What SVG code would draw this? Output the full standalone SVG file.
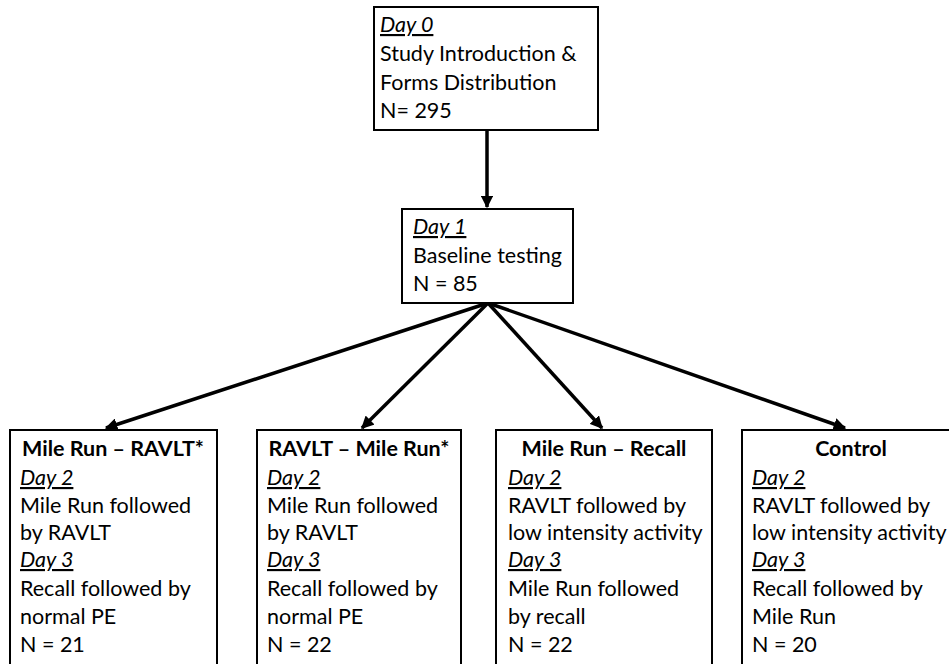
<svg xmlns="http://www.w3.org/2000/svg" width="949" height="664" viewBox="0 0 949 664">
<defs>
<style>
text{font-family:Lato,"Open Sans","Liberation Sans",sans-serif;font-size:21.5px;fill:#000}
.d{font-style:italic;text-decoration:underline}
.t{font-weight:bold;text-anchor:middle}
.box{fill:#fff;stroke:#000;stroke-width:2}
.c{stroke:#000;stroke-width:3.5;fill:none}
</style>
<marker id="ah" viewBox="0 0 10 10" refX="9" refY="5" markerWidth="3.6" markerHeight="3.6" orient="auto" markerUnits="strokeWidth">
<path d="M0,0 L10,5 L0,10 z" fill="#000"/>
</marker>
</defs>
<rect width="949" height="664" fill="#fff"/>
<g id="connectors">
<line class="c" x1="487" y1="130" x2="487" y2="207" marker-end="url(#ah)"/>
<line class="c" x1="488" y1="303" x2="106" y2="428" marker-end="url(#ah)"/>
<line class="c" x1="488" y1="303" x2="362" y2="428" marker-end="url(#ah)"/>
<line class="c" x1="488" y1="303" x2="602" y2="428" marker-end="url(#ah)"/>
<line class="c" x1="488" y1="303" x2="845" y2="428" marker-end="url(#ah)"/>
</g>
<g id="day0">
<rect class="box" x="374" y="7" width="224" height="123"/>
<text class="d" x="380" y="32">Day 0</text>
<text x="380" y="61">Study Introduction &amp;</text>
<text x="380" y="90">Forms Distribution</text>
<text x="380" y="118">N= 295</text>
</g>
<g id="day1">
<rect class="box" x="402" y="209" width="171" height="94"/>
<text class="d" x="413" y="234">Day 1</text>
<text x="413" y="263">Baseline testing</text>
<text x="413" y="291">N = 85</text>
</g>
<g id="g1">
<rect class="box" x="10" y="430" width="207" height="250"/>
<text class="t" x="113" y="456">Mile Run – RAVLT*</text>
<text class="d" x="20" y="485">Day 2</text>
<text x="20" y="513">Mile Run followed</text>
<text x="20" y="540">by RAVLT</text>
<text class="d" x="20" y="567">Day 3</text>
<text x="20" y="596">Recall followed by</text>
<text x="20" y="624">normal PE</text>
<text x="20" y="652">N = 21</text>
</g>
<g id="g2">
<rect class="box" x="257" y="430" width="204" height="250"/>
<text class="t" x="359" y="456">RAVLT – Mile Run*</text>
<text class="d" x="267" y="485">Day 2</text>
<text x="267" y="513">Mile Run followed</text>
<text x="267" y="540">by RAVLT</text>
<text class="d" x="267" y="567">Day 3</text>
<text x="267" y="596">Recall followed by</text>
<text x="267" y="624">normal PE</text>
<text x="267" y="652">N = 22</text>
</g>
<g id="g3">
<rect class="box" x="496" y="430" width="216" height="250"/>
<text class="t" x="604" y="456">Mile Run – Recall</text>
<text class="d" x="508" y="485">Day 2</text>
<text x="508" y="513">RAVLT followed by</text>
<text x="508" y="540">low intensity activity</text>
<text class="d" x="508" y="567">Day 3</text>
<text x="508" y="596">Mile Run followed</text>
<text x="508" y="624">by recall</text>
<text x="508" y="652">N = 22</text>
</g>
<g id="g4">
<rect class="box" x="742" y="430" width="218" height="250"/>
<text class="t" x="851" y="456">Control</text>
<text class="d" x="752" y="485">Day 2</text>
<text x="752" y="513">RAVLT followed by</text>
<text x="752" y="540">low intensity activity</text>
<text class="d" x="752" y="567">Day 3</text>
<text x="752" y="596">Recall followed by</text>
<text x="752" y="624">Mile Run</text>
<text x="752" y="652">N = 20</text>
</g>
</svg>
